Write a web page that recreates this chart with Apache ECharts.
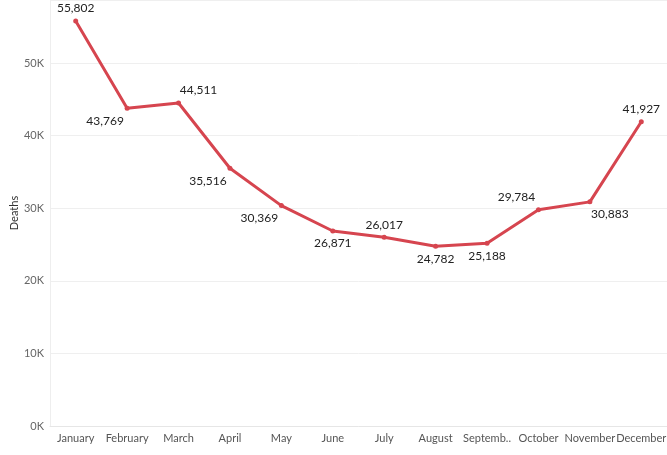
<!DOCTYPE html>
<html lang="en">
<head>
    <meta charset="UTF-8">
    <title>Deaths by month</title>
    <script src="https://cdn.jsdelivr.net/npm/echarts@6/dist/echarts.min.js"></script>
    <style>
        html, body { margin: 0; padding: 0; background: #fff; }
        #line { width: 667px; height: 455px; }
    </style>
</head>
<body>
    <div id="line"></div>

    <script>
        // data
        var months = ['January', 'February', 'March', 'April', 'May', 'June',
                      'July', 'August', 'September', 'October', 'November', 'December'];
        var deaths = [55802, 43769, 44511, 35516, 30369, 26871,
                      26017, 24782, 25188, 29784, 30883, 41927];
        // where each value label sits relative to its point
        var labelPos = ['top', 'bottomLeft', 'topRight', 'bottomLeft', 'bottomLeft', 'bottom',
                        'top', 'bottom', 'bottom', 'topLeft', 'bottomRight', 'top'];

        var offsets = {
            top: [0, 0],
            bottom: [0, 0],
            bottomLeft: [-22, 0],
            bottomRight: [20, 0],
            topRight: [20, 0],
            topLeft: [-22, 0]
        };

        var points = deaths.map(function (v, i) {
            var p = labelPos[i];
            var pos = p.indexOf('top') === 0 ? 'top' : 'bottom';
            return {
                value: v,
                label: { position: pos, offset: offsets[p], distance: 4 }
            };
        });

        var chart = echarts.init(document.getElementById('line'));

        var option = {
            animation: false,
            textStyle: { fontFamily: 'Lato, "Noto Sans", sans-serif' },
            grid: { left: 50, right: 0, top: 0, bottom: 29, containLabel: false, outerBoundsMode: 'none' },
            xAxis: {
                type: 'category',
                data: months,
                boundaryGap: true,
                axisLine: { lineStyle: { color: '#e6e6e6' } },
                axisTick: { show: false },
                splitLine: { show: false },
                axisLabel: {
                    color: '#555',
                    fontSize: 11,
                    margin: 7,
                    interval: 0,
                    formatter: function (s) { return s.length > 8 ? s.slice(0, 7) + '..' : s; }
                }
            },
            yAxis: {
                type: 'value',
                min: 0,
                max: 58700,
                interval: 10000,
                name: 'Deaths',
                nameLocation: 'middle',
                nameGap: 30,
                nameMoveOverlap: false,
                nameTextStyle: { color: '#333', fontSize: 11 },
                axisLine: { show: true, lineStyle: { color: '#eeeeee' } },
                axisTick: { show: false },
                splitLine: { lineStyle: { color: '#efefef' } },
                axisLabel: {
                    color: '#666',
                    fontSize: 11,
                    margin: 6,
                    showMaxLabel: false,
                    formatter: function (v) { return v % 10000 === 0 ? (v / 1000) + 'K' : ''; }
                }
            },
            series: [
                {
                    type: 'line',
                    data: points,
                    symbol: 'circle',
                    symbolSize: 5,
                    lineStyle: { color: '#d6454f', width: 3 },
                    itemStyle: { color: '#d6454f' },
                    label: {
                        show: true,
                        color: '#222',
                        fontSize: 12,
                        formatter: function (p) { return p.value.toLocaleString('en-US'); }
                    }
                }
            ]
        };

        chart.setOption(option);
    </script>
</body>
</html>
